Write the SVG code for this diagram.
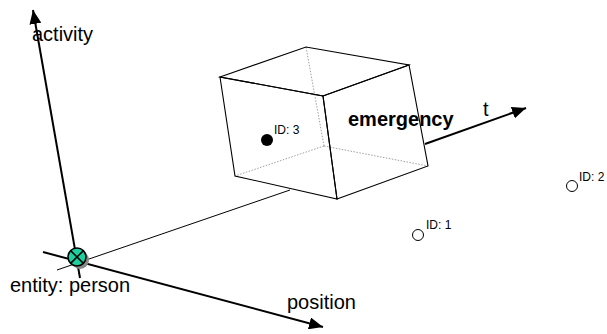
<svg xmlns="http://www.w3.org/2000/svg" width="607" height="334" viewBox="0 0 607 334">
<style>
text{font-family:"Liberation Sans",Arial,sans-serif;fill:#000}
.lbl{font-size:20px}
.id{font-size:12px}
.axis{stroke:#000;stroke-width:2;fill:none}
.thin{stroke:#000;stroke-width:1;fill:none}
.edge{stroke:#000;stroke-width:1.1;fill:none}
.hidden{stroke:#888;stroke-width:0.8;stroke-dasharray:1.5 1.5;fill:none}
.obj{fill:#fff;stroke:#000;stroke-width:1}
</style>
<defs>
<marker id="arr" markerUnits="userSpaceOnUse" markerWidth="16" markerHeight="12" refX="14" refY="6" orient="auto">
<path d="M0,0 L14,6 L0,12 Z" fill="#000"/>
</marker>
</defs>
<g id="connectors">
<line class="thin" x1="57" y1="270" x2="290" y2="190"/>
<line class="axis" x1="80" y1="278" x2="33" y2="10" marker-end="url(#arr)"/>
<line class="axis" x1="43" y1="252" x2="323" y2="327" marker-end="url(#arr)"/>
<line class="axis" x1="425" y1="144" x2="526" y2="108" marker-end="url(#arr)"/>
</g>
<g id="cube">
<line class="hidden" x1="324" y1="146" x2="306" y2="47"/>
<line class="hidden" x1="324" y1="146" x2="235" y2="176"/>
<line class="hidden" x1="324" y1="146" x2="428" y2="166"/>
<polygon class="edge" points="220,77 323,96 337,199 235,176"/>
<polygon class="edge" points="323,96 409,65 428,166 337,199"/>
<polygon class="edge" points="220,77 306,47 409,65 323,96"/>
</g>
<g id="entity">
<circle cx="80" cy="260" r="9" fill="#888"/>
<circle cx="77" cy="257" r="9" fill="#1ecf9f" stroke="#000" stroke-width="1.5"/>
<line x1="70.6" y1="250.6" x2="83.4" y2="263.4" stroke="#000" stroke-width="1.5"/>
<line x1="83.4" y1="250.6" x2="70.6" y2="263.4" stroke="#000" stroke-width="1.5"/>
<text class="lbl" x="10" y="292">entity: person</text>
</g>
<g id="id3">
<circle cx="267" cy="140" r="6" fill="#000"/>
<text class="id" x="274" y="134">ID: 3</text>
</g>
<g id="id1">
<circle class="obj" cx="418" cy="235" r="5.5"/>
<text class="id" x="426" y="229">ID: 1</text>
</g>
<g id="id2">
<circle class="obj" cx="572" cy="186" r="5.5"/>
<text class="id" x="579" y="181">ID: 2</text>
</g>
<g id="labels">
<text class="lbl" x="32" y="41">activity</text>
<text class="lbl" x="287" y="309">position</text>
<text class="lbl" x="348" y="126" font-weight="bold">emergency</text>
<text class="lbl" x="483" y="116">t</text>
</g>
</svg>
